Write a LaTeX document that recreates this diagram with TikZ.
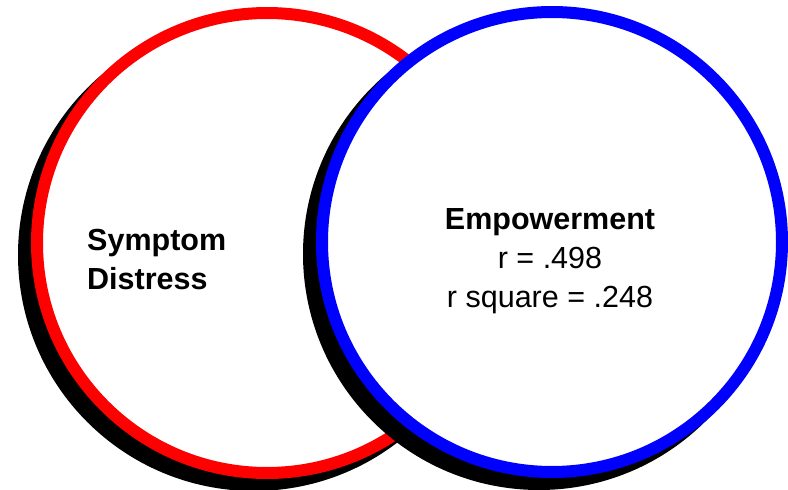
\documentclass[tikz,border=0pt]{standalone}
\usepackage{fontspec}
\setmainfont{Liberation Sans}
\definecolor{vnred}{RGB}{255,0,0}
\definecolor{vnblue}{RGB}{0,0,255}
\usetikzlibrary{positioning}

\begin{document}
\begin{tikzpicture}[x=1pt, y=-1pt,
    ring/.style={circle, draw=#1, line width=12pt, fill=white,
                 minimum size=460pt, inner sep=0pt},
    ringshade/.style={circle, fill=black, minimum size=472pt, inner sep=0pt},
    vnlabel/.style={inner sep=0pt, font=\fontsize{30.5}{39}\selectfont}
  ]
    \useasboundingbox (0,0) rectangle (788,490);

    % Symptom distress: shadow, then ring
    \node[ringshade] (symshade) at (254,255) {};
    \node[ring=vnred] (sym) at (267,243) {};

    % Empowerment: shadow, then ring (covers the overlap)
    \node[ringshade] (empshade) at (539,254) {};
    \node[ring=vnblue] (emp) at (552,242) {};

    % Labels
    \node[vnlabel, align=left, anchor=west, font=\fontsize{30.5}{39}\selectfont\bfseries]
      (symtext) at (87,259) {Symptom\\Distress};
    \node[vnlabel, align=center] (emptext) at (550,261)
      {{\bfseries Empowerment}\\r = .498\\r square = .248};
  \end{tikzpicture}
\end{document}
